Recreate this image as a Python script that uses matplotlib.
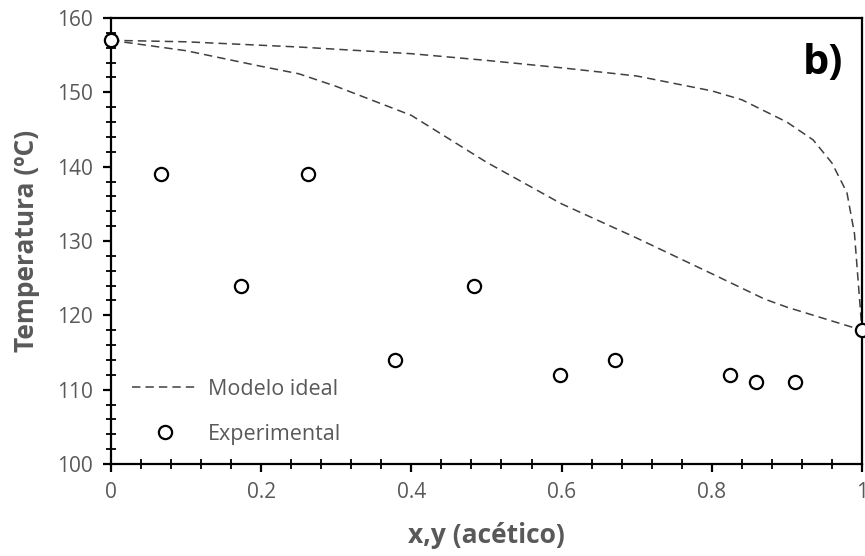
import matplotlib
matplotlib.use("Agg")
import matplotlib.pyplot as plt
from matplotlib.ticker import MultipleLocator, FuncFormatter

# datos
x_burb = [0.0, 0.1, 0.2, 0.25, 0.3, 0.4, 0.5, 0.6, 0.7, 0.8, 0.87, 0.9, 1.0]
t_burb = [157.0, 155.6, 153.5, 152.5, 150.8, 146.9, 140.6, 135.0, 130.4, 125.6, 122.2, 121.1, 118.0]

x_roc = [0.0, 0.1, 0.25, 0.4, 0.5, 0.6, 0.7, 0.8, 0.84, 0.9, 0.935, 0.96, 0.98, 0.99, 1.0]
t_roc = [157.0, 156.8, 156.1, 155.2, 154.3, 153.3, 152.2, 150.2, 149.0, 146.0, 143.6, 140.5, 136.5, 131.0, 118.0]

x_exp = [0.0, 0.067, 0.173, 0.262, 0.378, 0.483, 0.598, 0.671, 0.824, 0.859, 0.911, 1.0]
t_exp = [157, 139, 124, 139, 114, 124, 112, 114, 112, 111, 111, 118]

gris = '#595959'
plt.rcParams['font.family'] = ['Open Sans', 'DejaVu Sans']

fig = plt.figure(figsize=(8.65, 5.56), dpi=100)
ax = fig.add_axes([0.1283, 0.1655, 0.8682, 0.8021])

ax.plot(x_roc, t_roc, color='#404040', lw=1.1, dashes=(5.5, 3.3), label='Modelo ideal')
ax.plot(x_burb, t_burb, color='#404040', lw=1.1, dashes=(5.5, 3.3))
ax.plot(x_exp, t_exp, ls='none', marker='o', ms=9.5, mfc='white', mec='black',
        mew=1.6, label='Experimental', clip_on=False, zorder=5)

ax.set_xlim(0, 1)
ax.set_ylim(100, 160)
ax.xaxis.set_major_locator(MultipleLocator(0.2))
ax.xaxis.set_minor_locator(MultipleLocator(0.04))
ax.yaxis.set_major_locator(MultipleLocator(10))
ax.yaxis.set_minor_locator(MultipleLocator(2))
ax.xaxis.set_major_formatter(FuncFormatter(lambda v, p: f"{v:g}"))

for s in ax.spines.values():
    s.set_linewidth(1.6)
    s.set_color('black')

ax.tick_params(axis='both', which='major', direction='out', length=6, width=1.6,
               labelsize=15, labelcolor=gris, color='black', pad=7)
ax.tick_params(axis='both', which='minor', direction='inout', length=7, width=1.3, color='black')

ax.set_xlabel('x,y (acético)', fontsize=19, fontweight='bold', color=gris, labelpad=14)
ax.set_ylabel('Temperatura (ºC)', fontsize=19, fontweight='bold', color=gris, labelpad=12)

ax.text(0.975, 0.899, 'b)', transform=ax.transAxes, ha='right', va='center',
        fontsize=30, fontweight='bold', color='black')

leg = ax.legend(loc='lower left', bbox_to_anchor=(0.002, 0.0), frameon=False,
                fontsize=15.5, labelcolor=gris, handlelength=3.05, handletextpad=0.5,
                labelspacing=1.1)

fig.savefig('out.png', dpi=100)
